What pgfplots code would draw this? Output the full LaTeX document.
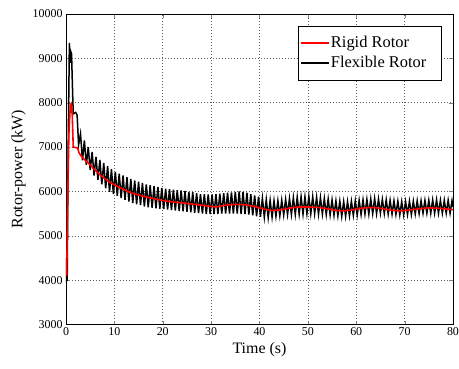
\documentclass[border=0pt]{standalone}
\usepackage{fontspec}
\setmainfont{Liberation Serif}
\usepackage{pgfplots}
\pgfplotsset{compat=1.18}
\begin{document}
\begin{tikzpicture}
\useasboundingbox (-66bp,-44.5bp) rectangle (393bp,324.5bp);
\begin{axis}[
  scale only axis, width=387bp, height=310.5bp,
  xmin=0, xmax=80, ymin=3000, ymax=10000,
  xtick={0,10,...,80}, ytick={3000,4000,...,10000},
  scaled ticks=false,
  grid=major,
  grid style={black!65, dash pattern=on 0.8bp off 2.2bp, line width=0.5bp},
  tick align=inside, major tick length=4bp, tick pos=both,
  axis line style={line width=0.8bp},
  /pgf/number format/assume math mode=true,
  /pgf/number format/1000 sep={},
  tick label style={font=\fontsize{12}{14}\selectfont},
  label style={font=\fontsize{16}{19}\selectfont},
  xlabel={Time (s)}, ylabel={Rotor-power (kW)},
  legend style={at={(0.9716,0.9623)}, anchor=north east, font=\fontsize{16.5}{20}\selectfont, draw=black, line width=0.6bp, inner xsep=2.5bp, inner ysep=0bp, minimum height=54bp, nodes={inner sep=0.8bp, minimum height=20bp}},
  legend cell align=left,
  legend image code/.code={\draw[#1] (0bp,0bp) -- (28bp,0bp);},
]
\addlegendimage{red, line width=1.6bp}
\addlegendentry{Rigid Rotor\hspace*{12bp}}
\addlegendimage{black, line width=1.6bp}
\addlegendentry{Flexible Rotor\hspace*{12bp}}

\addplot[black, line width=1.5bp, forget plot] coordinates {
(0,4500)(0.1,3980)(0.25,4000)(0.45,7000)(0.7,9350)(0.85,8900)(1.0,9150)(1.15,9100)(1.35,8300)(1.5,7750)(2.0,7780)(2.3,7720)(2.6,7050)
(3.0,7300)(3.4,6700)(3.8,7150)(4.2,6600)(4.6,7000)(5.0,6480)(5.4,6890)(5.8,6360)(6.2,6780)(6.6,6260)(7.0,6710)(7.4,6160)(7.8,6640)(8.2,6070)(8.6,6570)(9.0,5990)(9.4,6500)(9.8,5940)
(10.2,6440)(10.6,5900)(11.0,6400)(11.4,5850)(11.8,6360)(12.2,5810)(12.6,6320)(13.0,5770)(13.4,6280)(13.8,5740)(14.2,6250)(14.6,5710)(15.0,6220)(15.4,5690)(15.8,6190)(16.2,5660)(16.6,6160)(17.0,5640)(17.4,6140)(17.8,5630)(18.2,6120)(18.6,5620)(19.0,6100)(19.4,5610)(19.8,6080)
(20.2,5600)(20.6,6060)(21.0,5590)(21.4,6050)(21.8,5580)(22.2,6040)(22.6,5570)(23.0,6030)(23.4,5560)(23.8,6020)(24.2,5550)(24.6,6010)(25.0,5540)(25.4,5990)(25.8,5530)(26.2,5980)(26.6,5520)(27.0,5960)(27.4,5510)(27.8,5940)(28.2,5500)(28.6,5940)(29.0,5490)(29.4,5930)(29.8,5490)
(30.2,5930)(30.6,5490)(31.0,5940)(31.4,5490)(31.8,5950)(32.2,5500)(32.6,5960)(33.0,5500)(33.4,5970)(33.8,5500)(34.2,5980)(34.6,5500)(35.0,5990)(35.4,5500)(35.8,6000)(36.2,5490)(36.6,5990)(37.0,5490)(37.4,5970)(37.8,5480)(38.2,5940)(38.6,5460)(39.0,5910)(39.4,5440)(39.8,5880)
(40.2,5430)(40.6,5850)(41.0,5420)(41.4,5820)(41.8,5410)(42.2,5800)(42.6,5420)(43.0,5790)(43.4,5440)(43.8,5790)(44.2,5450)(44.6,5800)(45.0,5470)(45.4,5820)(45.8,5480)(46.2,5840)(46.6,5480)(47.0,5860)(47.4,5480)(47.8,5870)(48.2,5490)(48.6,5880)(49.0,5490)(49.4,5880)(49.8,5500)
(50.2,5890)(50.6,5500)(51.0,5880)(51.4,5500)(51.8,5870)(52.2,5490)(52.6,5860)(53.0,5490)(53.4,5840)(53.8,5480)(54.2,5830)(54.6,5470)(55.0,5810)(55.4,5460)(55.8,5790)(56.2,5450)(56.6,5780)(57.0,5440)(57.4,5770)(57.8,5440)(58.2,5770)(58.6,5450)(59.0,5780)(59.4,5460)(59.8,5790)
(60.2,5470)(60.6,5800)(61.0,5480)(61.4,5810)(61.8,5490)(62.2,5820)(62.6,5490)(63.0,5830)(63.4,5500)(63.8,5840)(64.2,5500)(64.6,5830)(65.0,5510)(65.4,5820)(65.8,5500)(66.2,5810)(66.6,5490)(67.0,5800)(67.4,5490)(67.8,5790)(68.2,5480)(68.6,5780)(69.0,5470)(69.4,5770)(69.8,5470)
(70.2,5770)(70.6,5480)(71.0,5780)(71.4,5480)(71.8,5780)(72.2,5490)(72.6,5790)(73.0,5500)(73.4,5790)(73.8,5510)(74.2,5800)(74.6,5510)(75.0,5800)(75.4,5510)(75.8,5810)(76.2,5510)(76.6,5810)(77.0,5510)(77.4,5800)(77.8,5510)(78.2,5800)(78.6,5510)(79.0,5800)(79.4,5510)(79.8,5790)(80.0,5650)
};

\addplot[red, line width=1.6bp, forget plot] coordinates {
(0,4500)(0.15,4100)(0.35,5800)(0.6,7300)(0.9,7950)(1.1,7980)(1.3,7700)(1.5,7000)(2.4,6980)(2.7,6870)(3.2,6790)(4,6700)(5,6600)(6,6480)(7,6380)(8,6290)(9,6210)(10,6150)(11,6090)(12,6040)(13,5990)(14,5950)(15,5920)(16,5890)(17,5865)(18,5840)(20,5795)(22,5765)(25,5730)(28,5690)(30,5660)(31,5650)(33,5690)(35,5710)(37,5700)(39,5660)(41,5600)(42.5,5570)(44,5580)(46,5620)(48,5650)(50,5650)(52,5640)(54,5610)(56,5570)(57.5,5560)(59,5580)(61,5620)(63,5640)(65,5620)(67,5580)(69,5560)(71,5580)(73,5610)(75,5630)(77,5620)(80,5590)
};
\end{axis}
\end{tikzpicture}
\end{document}
